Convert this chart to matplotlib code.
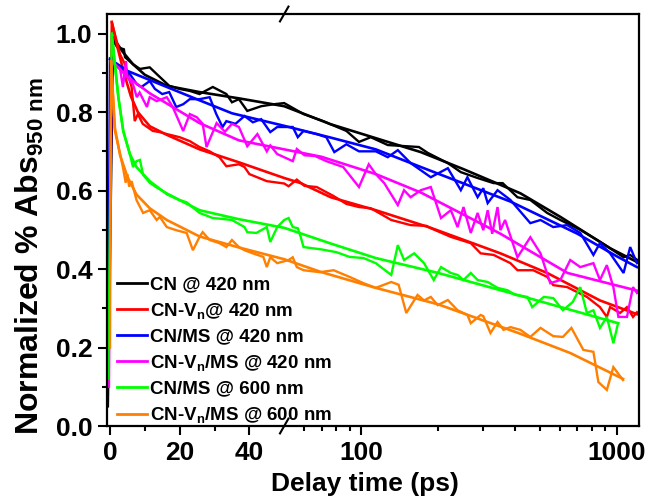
import numpy as np
import matplotlib
matplotlib.use("Agg")
import matplotlib.pyplot as plt
from matplotlib.lines import Line2D
from matplotlib.ticker import FixedLocator, NullFormatter

plt.rcParams['font.family'] = ['Liberation Sans', 'DejaVu Sans']
plt.rcParams['font.weight'] = 'bold'
plt.rcParams['mathtext.fontset'] = 'custom'
plt.rcParams['mathtext.rm'] = 'Liberation Sans:bold'
plt.rcParams['mathtext.bf'] = 'Liberation Sans:bold'
plt.rcParams['mathtext.it'] = 'Liberation Sans:bold'

# ---- kinetic traces (delay time in ps, normalized absorbance) ----
cn_t = [-0.6, 0.9, 2, 4, 4.3, 6.6, 8.6, 11.4, 13.4, 17, 20, 22.9, 25.7, 29.5, 33.4, 35, 37,
        39.4, 43.4, 47, 50, 59.5, 71, 87.5, 98, 109, 127, 168, 182, 218, 245, 285, 329, 357,
        408, 458, 533, 600, 718, 836, 939, 1060, 1125, 1200]
cn_v = [0.05, 0.986, 0.966, 0.96, 0.94, 0.922, 0.91, 0.914, 0.897, 0.867, 0.859, 0.854, 0.846,
        0.864, 0.846, 0.825, 0.833, 0.803, 0.815, 0.82, 0.823, 0.795, 0.777, 0.752, 0.724,
        0.736, 0.716, 0.711, 0.696, 0.67, 0.647, 0.632, 0.619, 0.619, 0.583, 0.576, 0.543,
        0.525, 0.5, 0.474, 0.453, 0.43, 0.436, 0.423]
cn_fit_t = [0.9, 3.7, 6.6, 10, 16.3, 25.7, 37, 50, 76, 100, 171, 250, 419, 600, 939, 1196]
cn_fit_v = [0.99, 0.953, 0.922, 0.895, 0.867, 0.851, 0.835, 0.815, 0.769, 0.745, 0.698, 0.655,
            0.593, 0.533, 0.453, 0.418]

cnv_t = [0, 0.5, 2.9, 4.3, 6.2, 7.1, 8, 9.4, 12.3, 14.3, 16.3, 20, 22.9, 25.7, 28.6, 31.4,
         33.4, 37, 38.6, 40, 45, 50, 52, 56, 60, 67, 78, 87.5, 98, 109, 131, 156, 180, 187,
         224, 268, 293, 329, 383, 408, 470, 533, 563, 638, 762, 857, 912, 939, 1027, 1093,
         1154, 1196]
cnv_v = [0.55, 1.03, 0.947, 0.922, 0.864, 0.777, 0.795, 0.77, 0.752, 0.749, 0.744, 0.736,
         0.726, 0.711, 0.7, 0.685, 0.662, 0.667, 0.66, 0.642, 0.624, 0.618, 0.611, 0.628,
         0.612, 0.609, 0.586, 0.566, 0.558, 0.555, 0.525, 0.512, 0.51, 0.504, 0.482, 0.466,
         0.44, 0.436, 0.415, 0.397, 0.397, 0.38, 0.359, 0.354, 0.329, 0.303, 0.278, 0.303,
         0.288, 0.303, 0.278, 0.29]
cnv_fit_t = [0.5, 2, 4, 6, 8, 11.4, 16.3, 25.7, 37, 50, 58, 76, 114, 187, 350, 533, 857, 1196]
cnv_fit_v = [1.03, 0.97, 0.9, 0.84, 0.8, 0.764, 0.742, 0.705, 0.672, 0.632, 0.619, 0.583,
             0.55, 0.505, 0.44, 0.39, 0.32, 0.285]

cnms_t = [-0.6, 0, 2, 5.7, 7.7, 9, 11.4, 12.9, 15, 17, 19, 21, 22.9, 25.7, 28.6, 30.5, 32.3,
          33.4, 36, 38.6, 41, 43.4, 46, 48, 54, 56.5, 59.5, 67, 73, 78.5, 87.5, 98, 114, 127,
          139, 156, 187, 218, 245, 260, 285, 300, 312, 341, 383, 458, 502, 563, 638, 718, 808,
          857, 939, 1060, 1125, 1196]
cnms_v = [0.1, 0.935, 0.92, 0.897, 0.871, 0.864, 0.879, 0.859, 0.846, 0.851, 0.813, 0.82,
          0.833, 0.833, 0.838, 0.795, 0.762, 0.777, 0.77, 0.79, 0.774, 0.782, 0.749, 0.762,
          0.762, 0.736, 0.752, 0.744, 0.736, 0.698, 0.718, 0.7, 0.7, 0.685, 0.703, 0.67, 0.634,
          0.657, 0.601, 0.634, 0.583, 0.606, 0.568, 0.601, 0.576, 0.517, 0.525, 0.507, 0.512,
          0.492, 0.436, 0.466, 0.44, 0.39, 0.456, 0.415]
cnms_fit_t = [0, 5, 16.3, 25.7, 35, 50, 76, 114, 171, 383, 700, 1000, 1196]
cnms_fit_v = [0.935, 0.905, 0.864, 0.83, 0.797, 0.765, 0.735, 0.705, 0.66, 0.572, 0.49,
              0.432, 0.405]

cnvms_t = [-0.3, 0.5, 2.9, 3.7, 4.6, 4.9, 6.6, 7.7, 8.5, 10.6, 11.4, 13.4, 16.3, 18, 21,
           22.9, 24.9, 26.6, 27.7, 30.6, 33, 35, 37, 39.4, 42.3, 45, 46, 48, 54, 56, 60, 66,
           73, 85, 98, 107, 114, 123, 139, 147, 156, 171, 187, 205, 224, 238, 251, 268, 285,
           300, 312, 325, 341, 350, 365, 408, 458, 502, 548, 600, 656, 718, 808, 857, 912,
           967, 1012, 1093, 1154, 1196]
cnvms_v = [0.1, 0.93, 0.91, 0.864, 0.93, 0.889, 0.871, 0.838, 0.85, 0.813, 0.838, 0.828,
           0.838, 0.813, 0.752, 0.795, 0.787, 0.77, 0.711, 0.772, 0.75, 0.77, 0.762, 0.713,
           0.744, 0.7, 0.715, 0.693, 0.675, 0.706, 0.69, 0.688, 0.675, 0.66, 0.609, 0.667,
           0.642, 0.619, 0.563, 0.601, 0.583, 0.601, 0.609, 0.53, 0.55, 0.507, 0.558, 0.492,
           0.543, 0.499, 0.55, 0.49, 0.558, 0.499, 0.525, 0.43, 0.481, 0.44, 0.364, 0.372,
           0.423, 0.405, 0.415, 0.372, 0.41, 0.354, 0.278, 0.278, 0.354, 0.339]
cnvms_fit_t = [0.5, 5, 11.4, 25.7, 37, 50, 70, 114, 171, 350, 640, 1196]
cnvms_fit_v = [0.93, 0.89, 0.848, 0.772, 0.728, 0.705, 0.686, 0.642, 0.595, 0.49, 0.39, 0.345]

cnms6_t = [-0.5, 0.5, 1.4, 2.4, 3.8, 5.7, 6.6, 7.6, 8.6, 9.5, 11.4, 13, 16.3, 20, 22, 25.7,
           29.5, 32, 35, 38.6, 39.4, 42, 45, 46, 48, 50, 52, 54, 56.5, 58, 59.5, 70, 80, 90,
           102, 114, 131, 139, 147, 161, 176, 192, 205, 224, 238, 251, 268, 285, 312, 341,
           373, 400, 446, 466, 517, 563, 614, 671, 718, 762, 808, 857, 912, 967, 1009]
cnms6_v = [0.12, 1.0, 0.922, 0.838, 0.752, 0.693, 0.66, 0.675, 0.678, 0.64, 0.62, 0.61,
           0.593, 0.576, 0.57, 0.543, 0.53, 0.528, 0.525, 0.507, 0.494, 0.492, 0.507, 0.469,
           0.507, 0.525, 0.53, 0.507, 0.504, 0.482, 0.456, 0.45, 0.443, 0.431, 0.428, 0.415,
           0.385, 0.461, 0.423, 0.44, 0.415, 0.372, 0.405, 0.39, 0.385, 0.372, 0.39, 0.372,
           0.367, 0.352, 0.346, 0.334, 0.329, 0.303, 0.329, 0.326, 0.295, 0.316, 0.354, 0.288,
           0.295, 0.25, 0.278, 0.211, 0.262]
cnms6_fit_t = [0.5, 1.4, 2.4, 3.8, 5.7, 7.6, 11.4, 16.3, 21, 25.7, 30.6, 37, 50, 76, 114,
               200, 383, 1009]
cnms6_fit_v = [1.0, 0.922, 0.838, 0.752, 0.693, 0.66, 0.624, 0.591, 0.571, 0.55, 0.54, 0.527,
               0.505, 0.465, 0.428, 0.39, 0.339, 0.262]

cnvms6_t = [0, 0.3, 1.4, 2.9, 3.7, 4.5, 5, 5.5, 6.2, 7.6, 9.5, 11.4, 13.4, 14.3, 16.3, 19, 22,
            23.8, 25.7, 26.6, 28.6, 31.4, 33.4, 35, 37, 38.6, 41, 44, 45, 46, 48, 52, 54, 56,
            59.5, 69, 78, 90, 102, 114, 131, 140, 150, 166, 176, 187, 199, 218, 238, 260, 268,
            293, 300, 320, 341, 360, 383, 419, 458, 502, 563, 614, 663, 738, 808, 845, 912,
            967, 1055]
cnvms6_v = [0.2, 0.93, 0.752, 0.693, 0.66, 0.62, 0.642, 0.61, 0.624, 0.576, 0.543, 0.55,
            0.525, 0.533, 0.507, 0.499, 0.492, 0.448, 0.482, 0.494, 0.474, 0.466, 0.456,
            0.474, 0.456, 0.448, 0.44, 0.431, 0.405, 0.43, 0.415, 0.423, 0.43, 0.405, 0.397,
            0.392, 0.397, 0.38, 0.364, 0.352, 0.367, 0.36, 0.288, 0.334, 0.32, 0.329, 0.308,
            0.321, 0.295, 0.283, 0.262, 0.283, 0.28, 0.237, 0.265, 0.245, 0.252, 0.245, 0.227,
            0.25, 0.229, 0.227, 0.25, 0.194, 0.189, 0.112, 0.092, 0.15, 0.117]
cnvms6_fit_t = [0.3, 1.4, 2.9, 5, 7.6, 11.4, 16.3, 25.7, 37, 50, 70, 114, 200, 419, 656, 1055]
cnvms6_fit_v = [0.93, 0.76, 0.69, 0.635, 0.59, 0.555, 0.525, 0.483, 0.455, 0.425, 0.392,
                0.352, 0.31, 0.235, 0.186, 0.12]

labels = ["CN @ 420 nm",
          "CN-V$_\\mathrm{n}$@ 420 nm",
          "CN/MS @ 420 nm",
          "CN-V$_\\mathrm{n}$/MS @ 420 nm",
          "CN/MS @ 600 nm",
          "CN-V$_\\mathrm{n}$/MS @ 600 nm"]
colors = ["#000000", "#ff0000", "#0000ff", "#ff00ff", "#00ff00", "#ff8000"]
traces = [(cn_t, cn_v, cn_fit_t, cn_fit_v),
          (cnv_t, cnv_v, cnv_fit_t, cnv_fit_v),
          (cnms_t, cnms_v, cnms_fit_t, cnms_fit_v),
          (cnvms_t, cnvms_v, cnvms_fit_t, cnvms_fit_v),
          (cnms6_t, cnms6_v, cnms6_fit_t, cnms6_fit_v),
          (cnvms6_t, cnvms6_v, cnvms6_fit_t, cnvms6_fit_v)]

x_major = [0, 20, 40, 100, 1000]
x_minor = [10, 30, 60, 70, 80, 90, 200, 300, 400, 500, 600, 700, 800, 900]
y_major = [0.0, 0.2, 0.4, 0.6, 0.8, 1.0]
y_minor = [0.1, 0.3, 0.5, 0.7, 0.9]

# ---- broken time axis: linear up to 50 ps, logarithmic beyond ----
T_BREAK = 50.0
K_DEC = 73.43  # linear-axis units per decade on the log segment


def fwd(x):
    x = np.asarray(x, dtype=float)
    xl = np.maximum(x, T_BREAK)
    return np.where(x <= T_BREAK, x, T_BREAK + K_DEC * np.log10(xl / T_BREAK))


def inv(y):
    y = np.asarray(y, dtype=float)
    yl = np.maximum(y, T_BREAK)
    return np.where(y <= T_BREAK, y, T_BREAK * 10 ** ((yl - T_BREAK) / K_DEC))


fig = plt.figure(figsize=(6.49, 4.97), dpi=100)
ax = fig.add_axes([107 / 649, 71 / 497, 532 / 649, 412 / 497])
ax.set_xscale('function', functions=(fwd, inv))

for (t, v, ft, fv), c in zip(traces, colors):
    ax.plot(t, v, color=c, lw=1.7, solid_joinstyle='miter')
    ax.plot(ft, fv, color=c, lw=1.9)

ax.set_xlim(-0.86, 1218)
ax.set_ylim(0, 1.05)

ax.xaxis.set_major_locator(FixedLocator(x_major))
ax.xaxis.set_minor_locator(FixedLocator(x_minor))
ax.xaxis.set_minor_formatter(NullFormatter())
ax.set_xticklabels([str(v) for v in x_major])
ax.yaxis.set_major_locator(FixedLocator(y_major))
ax.yaxis.set_minor_locator(FixedLocator(y_minor))
ax.set_yticklabels([f"{v:.1f}" for v in y_major])

ax.tick_params(which='both', direction='out', width=1.5, top=False, right=False)
ax.tick_params(which='major', length=6.5, labelsize=19, pad=4)
ax.tick_params(which='minor', length=3.5)
for s in ax.spines.values():
    s.set_linewidth(1.6)

ax.set_xlabel("Delay time (ps)", fontsize=19, fontweight='bold')
ax.set_ylabel("Normalized % Abs$_{\\mathrm{950\\ nm}}$", fontsize=23, fontweight='bold')
ax.xaxis.set_label_coords(0.485, -0.112)
ax.yaxis.set_label_coords(-0.115, 0.413)

# axis-break marks at 50 ps
for yb in (1.0, 0.0):
    xb = (fwd(T_BREAK) - fwd(-0.86)) / (fwd(1218) - fwd(-0.86))
    ax.plot([xb - 0.008, xb + 0.008], [yb - 0.018, yb + 0.018], transform=ax.transAxes,
            color='black', lw=1.5, clip_on=False, zorder=5)

handles = [Line2D([], [], color=c, lw=2) for c in colors]
ax.legend(handles, labels, loc='lower left', bbox_to_anchor=(0.011, -0.007),
          frameon=False, fontsize=13.5, handlelength=1.6, handletextpad=0.2,
          labelspacing=0.40, borderpad=0.2, borderaxespad=0)

fig.savefig("out.png", dpi=100)
